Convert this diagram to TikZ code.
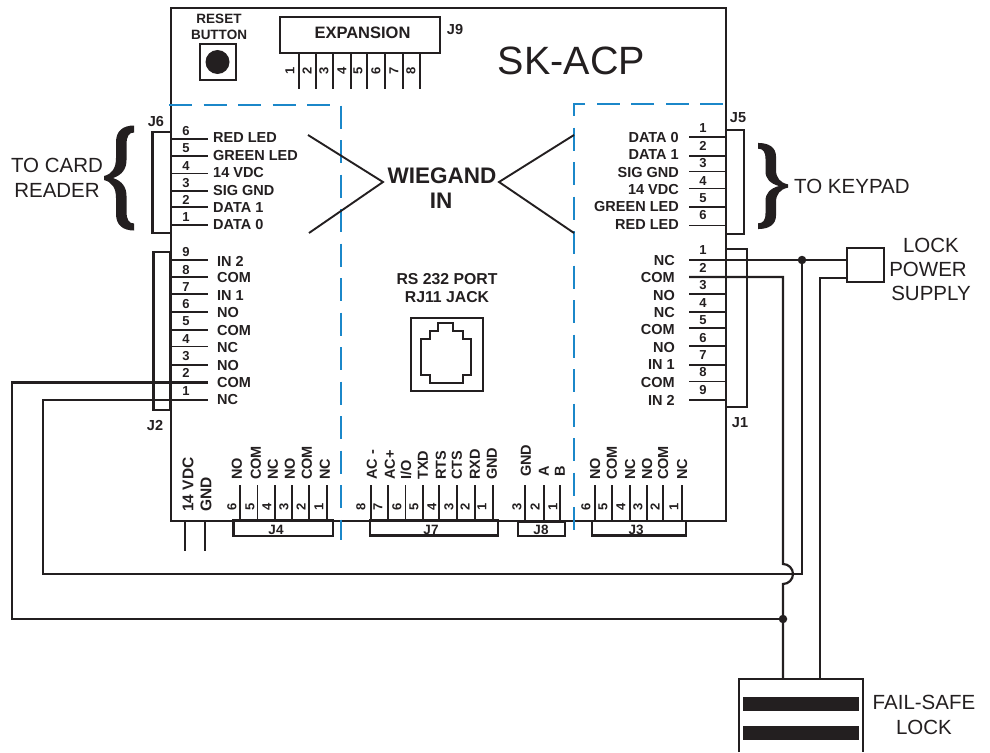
\documentclass[tikz,border=0pt]{standalone}
\usepackage{fontspec}
\setmainfont{Liberation Sans}
\definecolor{ink}{HTML}{231F20}
\definecolor{dashblue}{HTML}{1B87C9}
\newcommand{\bracefill}{%
  \fill[ink] (0,-2) .. controls (8,-4) and (12,-10) .. (12,-20) -- (12,-36) .. controls (12,-47) and (19,-52.5) .. (30,-52.5) -- (30,-45.5) .. controls (25,-45.5) and (22.5,-42) .. (22.5,-33) -- (22.5,-18) .. controls (22.5,-9) and (18,-3) .. (9,0)
  .. controls (18,3) and (22.5,9) .. (22.5,18) -- (22.5,33) .. controls (22.5,42) and (25,45.5) .. (30,45.5) -- (30,52.5) .. controls (19,52.5) and (12,47) .. (12,36) -- (12,20) .. controls (12,10) and (8,4) .. (0,2) -- cycle;}
\tikzset{
  x=1pt,y=-1pt,
  wire/.style={draw=ink,line width=2.2pt},
  pin/.style={draw=ink,line width=1.9pt},
  box/.style={draw=ink,line width=2.2pt,fill=white},
  zone/.style={draw=dashblue,line width=1.8pt,dash pattern=on 23pt off 11.5pt},
  lab/.style={font=\fontsize{14.5}{16}\selectfont\bfseries,text=ink,inner sep=0pt},
  num/.style={font=\fontsize{13}{15}\selectfont\bfseries,text=ink,inner sep=0pt},
  rot/.style={lab,rotate=90,anchor=west},
  rnum/.style={num,rotate=90},
  big/.style={font=\fontsize{20.5}{24}\selectfont,text=ink,inner sep=0pt,align=center},
  dot/.style={circle,fill=ink,inner sep=0pt,minimum size=8.5pt},
}
\begin{document}
\begin{tikzpicture}
\useasboundingbox (0,0) rectangle (990,752);
% board
\draw[draw=ink,line width=2pt] (171,8) rectangle (725.5,520.5);
% connector boxes on the board edges
\draw[box] (152.5,132) rectangle (171,233);
\draw[box] (153.5,252) rectangle (170.5,410);
\draw[box] (726,130) rectangle (744,234);
\draw[box] (726,249) rectangle (747,407);
\draw[box] (233.5,520.5) rectangle (333,536);
\draw[box] (370,520.5) rectangle (498,535.5);
\draw[box] (518,522) rectangle (565,536);
\draw[box] (592,521) rectangle (686,535.5);
% zones
\draw[zone] (169,105) -- (341,105) -- (341,540);
\draw[zone] (723,104) -- (574,104) -- (574,532);
% J6
\foreach \y in {138.7,156,173.5,191,207,225}{\draw[pin] (171,\y) -- (208,\y);}
\foreach \y/\n in {131/6,148/5,166/4,183/3,200/2,217/1}{\node[num] at (186,\y) {\n};}
\foreach \y/\t in {138/RED LED,155.5/GREEN LED,173/14 VDC,190.5/SIG GND,207.5/DATA 1,225/DATA 0}{\node[lab,anchor=west] at (213,\y) {\t};}
% J2
\foreach \y in {260,277,294,312,330,346.5,365}{\draw[pin] (171,\y) -- (208,\y);}
\foreach \y/\n in {252/9,270/8,287/7,304/6,321/5,339/4,356/3,373/2,391/1}{\node[num] at (186,\y) {\n};}
\foreach \y/\t in {261/IN 2,278/COM,295.7/IN 1,313/NO,330.7/COM,348/NC,365.5/NO,382.7/COM,400/NC}{\node[lab,anchor=west] at (217,\y) {\t};}
% J5
\foreach \y in {136.7,156,171.5,188.5,207,225.5}{\draw[pin] (689,\y) -- (725,\y);}
\foreach \y/\t in {137.7/DATA 0,155/DATA 1,172.7/SIG GND,190/14 VDC,207/GREEN LED,225/RED LED}{\node[lab,anchor=east] at (679,\y) {\t};}
\foreach \y/\n in {128/1,146/2,163/3,181/4,198/5,215/6}{\node[num] at (703,\y) {\n};}
% J1
\foreach \y in {294,312,328,346,365,381.5,400}{\draw[pin] (689,\y) -- (725,\y);}
\foreach \y/\t in {261/NC,278/COM,295.7/NO,313/NC,330/COM,347.7/NO,365/IN 1,382.7/COM,400/IN 2}{\node[lab,anchor=east] at (675,\y) {\t};}
\foreach \y/\n in {250/1,268/2,285/3,303/4,320/5,338/6,355/7,372/8,390/9}{\node[num] at (703,\y) {\n};}
% J labels
\foreach \nm/\x/\y/\t in {lj6/156/122/J6,lj2/155/426/J2,lj5/738/118/J5,lj1/740/423/J1,lj9/455/30/J9}{
  \node[lab] (\nm) at (\x,\y) {\t};
}
% J9 expansion
\node[box,minimum width=160pt,minimum height=36pt,inner sep=0pt] (exp) at (360,35) {};
\node[font=\fontsize{16.5}{18}\selectfont\bfseries,text=ink,inner sep=0pt] at (362.5,33) {EXPANSION};
\foreach \x/\n in {299/1,316/2,333/3,351/4,367/5,385/6,403/7,420/8}{
  \draw[pin] (\x,53) -- (\x,89);
  \node[rnum] at (\x-9,70.5) {\n};
}
% reset
\node[lab,font=\fontsize{13.5}{15}\selectfont\bfseries] at (219,19) {RESET};
\node[lab,font=\fontsize{13.5}{15}\selectfont\bfseries] at (219,34.5) {BUTTON};
\node[draw=ink,line width=2pt,minimum size=36pt,inner sep=0pt] (reset) at (217.5,62) {};
\fill[ink] (reset.center) circle (12);
\node[font=\fontsize{39.5}{42}\selectfont,text=ink,inner sep=0pt] at (571.5,61) {SK-ACP};
% Wiegand
\draw[draw=ink,line width=1.9pt] (308,135) -- (383,182) -- (309,233);
\draw[draw=ink,line width=1.9pt] (574,135) -- (499,182) -- (574,233);
\node[lab,font=\fontsize{22.5}{24}\selectfont\bfseries] at (442,176) {WIEGAND};
\node[lab,font=\fontsize{22.5}{24}\selectfont\bfseries] at (441,201) {IN};
% RS232
\node[lab,font=\fontsize{15.8}{18}\selectfont\bfseries] at (447,279) {RS 232 PORT};
\node[lab,font=\fontsize{15.8}{18}\selectfont\bfseries] at (447,297) {RJ11 JACK};
\draw[draw=ink,line width=2pt] (410.5,318) rectangle (483,391);
\draw[draw=ink,line width=2pt] (438,323) -- (453,323) -- (453,331) -- (463,331) -- (463,339) -- (471,339) -- (471,375) -- (463,375) -- (463,383) -- (430,383) -- (430,375) -- (421,375) -- (421,339) -- (430,339) -- (430,331) -- (438,331) -- cycle;
% bottom side: pins, numbers, labels
\foreach \x/\nx/\n/\lx/\t in {240/232/6/237/NO,257.5/250/5/256/COM,275/267/4/273/NC,292/284/3/290/NO,309/301/2/307/COM,327/319/1/325/NC,
  595/586/6/595/NO,612/603/5/612/COM,630/621/4/630/NC,647/638/3/647/NO,663/655/2/663/COM,682/674/1/682/NC,
  371/361/8/372/AC -,388/378/7/390/AC+,405.5/397/6/406/{I/O},423/414/5/423/TXD,439/432/4/441/RTS,457/449/3/457/CTS,475/465/2/475/RXD,493/482/1/492/GND}{
  \draw[pin] (\x,485) -- (\x,520);
  \node[rnum] at (\nx,507) {\n};
  \node[rot] at (\lx,480) {\t};
}
\foreach \x/\nx/\n/\lx/\t in {525/517/3/526/GND,544/535/2/544/A,560/553/1/560/B}{
  \draw[pin] (\x,485) -- (\x,520);
  \node[rnum] at (\nx,507) {\n};
  \node[rot] at (\lx,477) {\t};
}
\node[rot,font=\fontsize{15.5}{17}\selectfont\bfseries] at (188,512) {14 VDC};
\node[rot,font=\fontsize{15.5}{17}\selectfont\bfseries] at (206,512) {GND};
\draw[wire] (185,520) -- (185,551);
\draw[wire] (205,520) -- (205,551);
\foreach \x/\t in {276/J4,431/J7,541/J8,636/J3}{\node[num,font=\fontsize{13.5}{15}\selectfont\bfseries] at (\x,529.5) {\t};}
% braces
\begin{scope}[shift={(104,178)}]\bracefill\end{scope}
\begin{scope}[shift={(788,186)},xscale=-1,yscale=.82]\bracefill\end{scope}
\node[big] at (57,165) {TO CARD};
\node[big] at (57,190) {READER};
\node[big,anchor=west] at (794,186) {TO KEYPAD};
% external devices
\node[draw=ink,line width=2.2pt,minimum width=37pt,minimum height=34pt,inner sep=0pt] (lps) at (865.5,265) {};
\node[big] at (931,245) {LOCK};
\node[big] at (928,269) {POWER};
\node[big] at (931,293) {SUPPLY};
\draw[draw=ink,line width=2.2pt] (739,752) -- (739,679) -- (863,679) -- (863,752);
\fill[ink] (743,697) rectangle (859,711);
\fill[ink] (743,726) rectangle (859,740);
\node[big] at (924,702) {FAIL-SAFE};
\node[big] at (924,727) {LOCK};
% field wiring
\coordinate (j2com) at (208,382.5);
\coordinate (j2nc) at (208,400);
\coordinate (j1nc) at (689,260);
\coordinate (j1com) at (689,277);
\coordinate (lockL) at (783,679);
\coordinate (lockR) at (820,679);
\node[dot] (n1) at (802,260) {};
\node[dot] (n2) at (783,619) {};
\draw[wire] (j1nc) -- (lps.west |- j1nc);
\draw[wire] (n1) -- (802,574) -- (43,574) -- (43,400) -- (j2nc);
\draw[wire] (j2com) -- (12,382.5) -- (12,619) -- (n2);
\draw[wire] (j1com) -- (783,277) -- (783,564) arc[start angle=-90,end angle=90,radius=10] -- (lockL);
\draw[wire] (lockR) -- (820,278) -- (lps.west |- 0,278);
\end{tikzpicture}
\end{document}
